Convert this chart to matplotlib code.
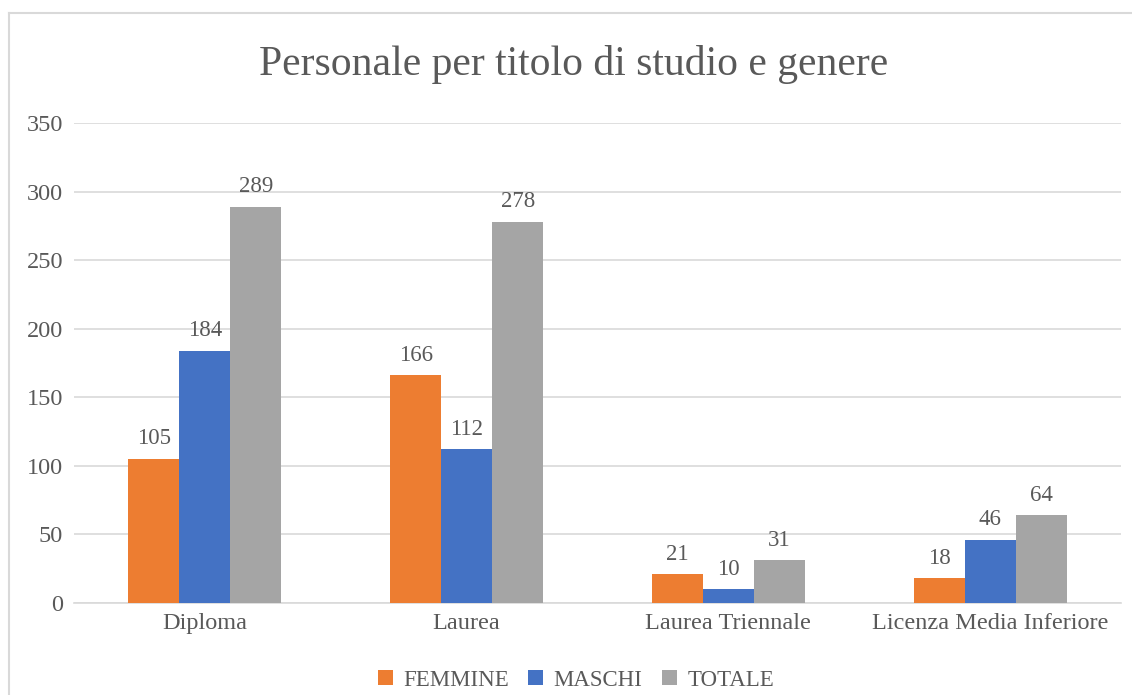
import matplotlib
matplotlib.use("Agg")
import matplotlib.pyplot as plt
import numpy as np
from matplotlib.lines import Line2D

# data
categories = ["Diploma", "Laurea", "Laurea Triennale", "Licenza Media Inferiore"]
femmine = [105, 166, 21, 18]
maschi = [184, 112, 10, 46]
totale = [289, 278, 31, 64]
series_names = ["FEMMINE", "MASCHI", "TOTALE"]
colors = ["#ED7D31", "#4472C4", "#A5A5A5"]
yticks = [0, 50, 100, 150, 200, 250, 300, 350]

plt.rcParams["font.family"] = ["Liberation Serif", "DejaVu Serif"]
text_col = "#595959"

W, H = 1132, 695
fig = plt.figure(figsize=(W / 100, H / 100), dpi=100)
# outer chart frame: only top and left edges are visible
top_y = 1 - 12.5 / H
left_x = 8.5 / W
fig.lines.append(Line2D([left_x, 1.0], [top_y, top_y], transform=fig.transFigure,
                        color="#D9D9D9", linewidth=1.5))
fig.lines.append(Line2D([left_x, left_x], [0.0, top_y], transform=fig.transFigure,
                        color="#D9D9D9", linewidth=1.5))

ax = fig.add_axes([74 / W, (H - 603) / H, (1121 - 74) / W, 480 / H])

x = np.arange(len(categories))
bw = 0.195
for k, (vals, name, c) in enumerate(zip([femmine, maschi, totale], series_names, colors)):
    pos = x + (k - 1) * bw
    ax.bar(pos, vals, width=bw, color=c, label=name, zorder=3)
    for xi, v in zip(pos, vals):
        ax.text(xi, v + 7, str(v), ha="center", va="bottom", fontsize=16.5, color=text_col)

ax.set_xlim(-0.5, len(categories) - 0.5)
ax.set_ylim(0, 350)
ax.set_yticks(yticks)
ax.set_xticks(x)
ax.set_xticklabels(categories)
ax.tick_params(axis="both", length=0, labelsize=17.5, labelcolor=text_col)
ax.tick_params(axis="x", pad=7)
ax.tick_params(axis="y", pad=8)
ax.grid(axis="y", color="#D9D9D9", linewidth=1.2, zorder=0)
for s in ["top", "right", "left"]:
    ax.spines[s].set_visible(False)
ax.spines["bottom"].set_color("#D9D9D9")
ax.spines["bottom"].set_linewidth(1.2)

fig.text(574 / W, 1 - 65 / H, "Personale per titolo di studio e genere",
         ha="center", va="center", fontsize=30, color=text_col)

fig.legend(loc="center", bbox_to_anchor=(576 / W, 1 - 680 / H), ncol=3,
           frameon=False, fontsize=16.5, handlelength=0.65, handleheight=0.65,
           handletextpad=0.45, columnspacing=0.85, labelcolor=text_col)

fig.savefig("out.png", dpi=100)
